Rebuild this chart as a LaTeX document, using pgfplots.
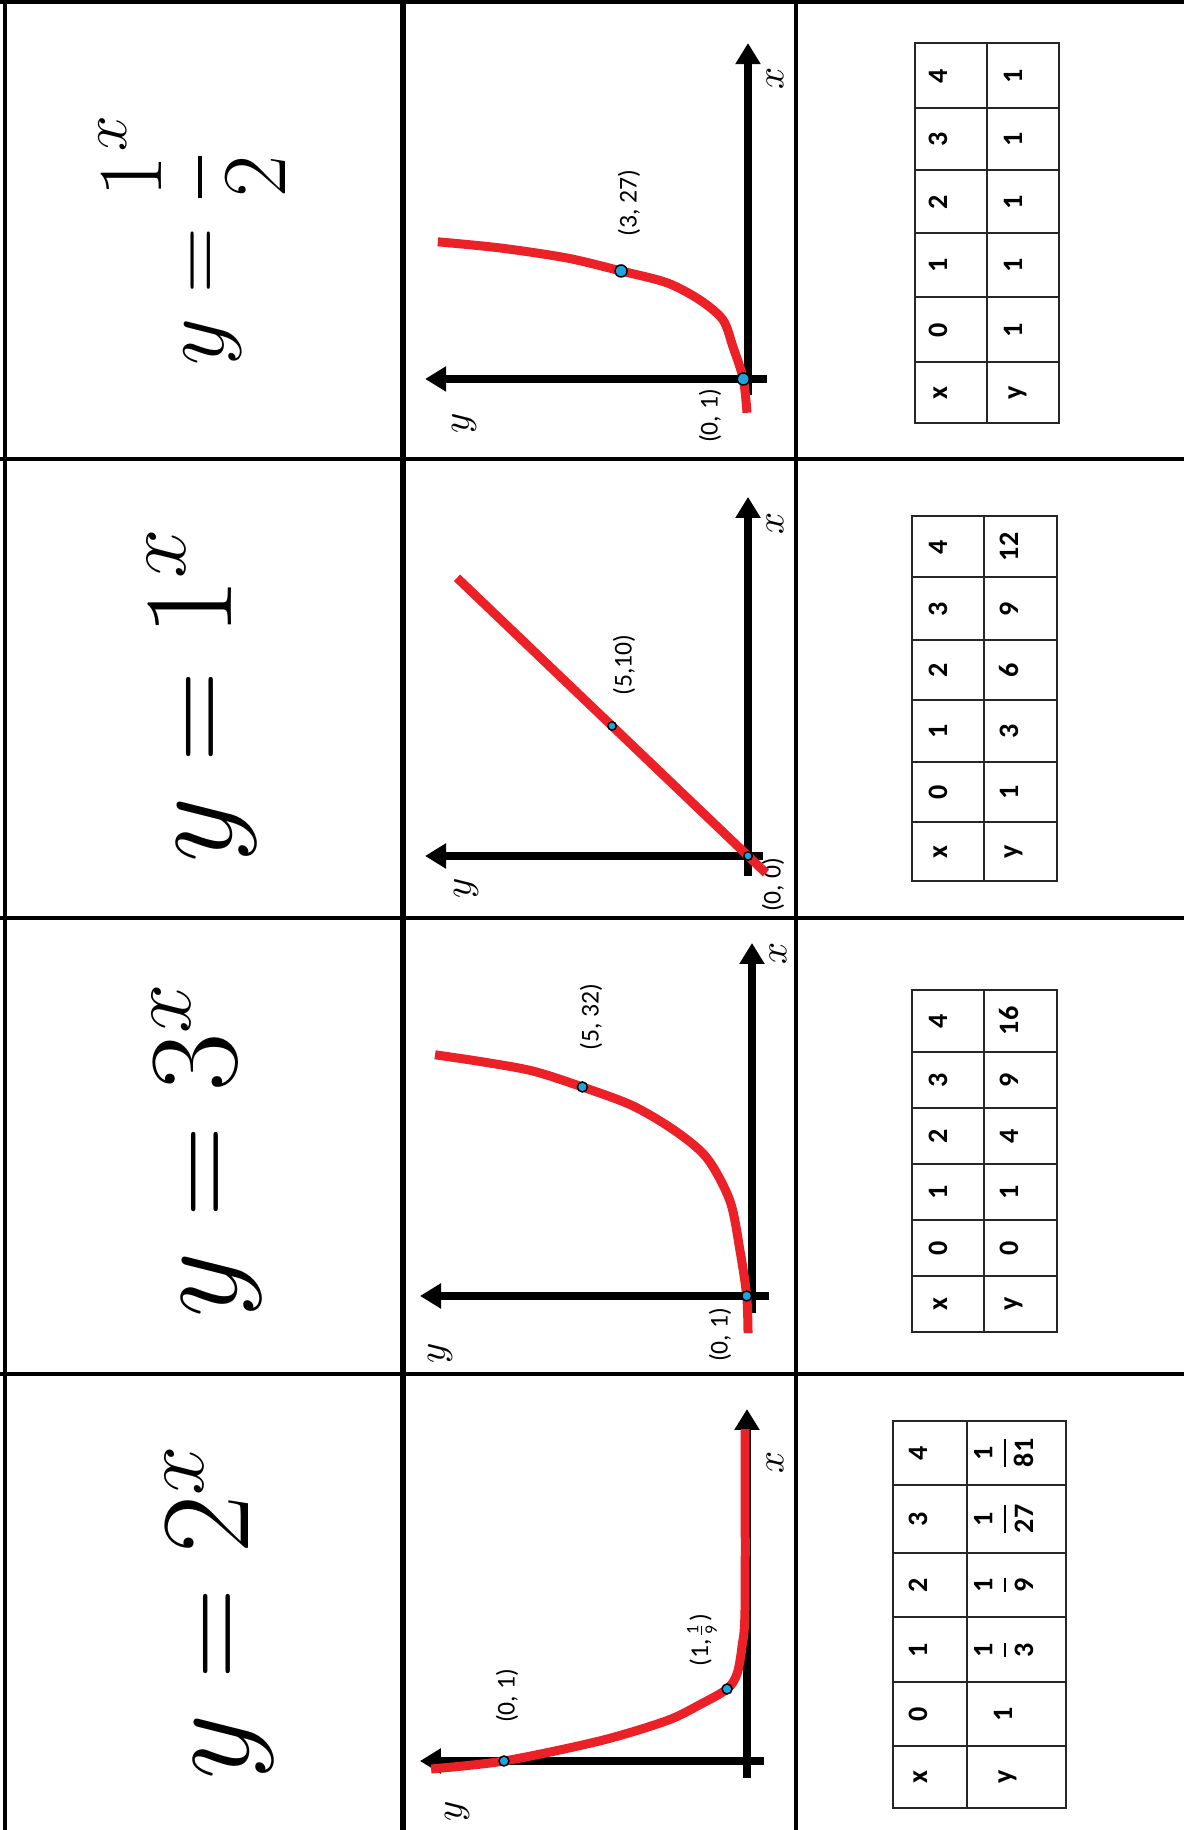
\RequirePackage{fix-cm}
\documentclass[border=0pt]{standalone}
\usepackage{amsmath}
\usepackage{fontspec}
\setmainfont{Carlito}
\usepackage{graphicx}
\usepackage{pgfplots}
\pgfplotsset{compat=1.18}
\usetikzlibrary{arrows.meta}

\definecolor{curvered}{RGB}{236,32,39}
\definecolor{dotblue}{RGB}{30,165,225}

% fraction used in the tables
\newcommand{\tfr}[2]{$\genfrac{}{}{0.6pt}{0}{\mbox{#1}}{\mbox{#2}}$}

\pgfplotsset{
  card/.style={anchor=south west, axis lines*=middle, xtick=\empty, ytick=\empty, clip=false,
    axis line style={line width=0.78mm, -{Triangle[length=2.1mm,width=2.4mm]}}},
  curve/.style={curvered, line width=0.9mm, smooth, no marks},
  pts/.style={only marks, mark=*, mark size=0.5mm,
    mark options={fill=dotblue, draw=black, line width=0.15mm}}}

\begin{document}
\rotatebox{90}{%
\begin{tikzpicture}
\begin{scope}[x=0.1mm, y=-0.1mm,
  grid/.style={line width=0.45mm, black},
  lab/.style={font=\fontsize{7.3}{9}\selectfont, inner sep=0pt},
  eq/.style={font=\fontsize{36}{40}\selectfont, anchor=base, inner sep=0pt}]
\useasboundingbox (0,0) rectangle (1830,1184);

% card grid
\draw[grid] (0,5) -- (1828,5);
\draw[grid, line width=0.55mm] (0,403) -- (1828,403);
\draw[grid] (0,796) -- (1828,796);
\foreach \u in {456,912,1371,1828} \draw[grid] (\u,0) -- (\u,1184);

% equations
\node[eq] at (218,249) {$y = 2^{x}$};
\node[eq] at (680,236) {$y = 3^{x}$};
\node[eq] at (1135,231) {$y = 1^{x}$};
\node[eq, font=\fontsize{26}{30}\selectfont] at (1590,223) {$y = \dfrac{1}{2}^{x}$};

% label partly hidden by the axes
\node[lab] at (945,773) {(0, 0)};
\end{scope}

% graph 1
\begin{axis}[card, at={(5.2mm,-76.45mm)}, x=7.2mm, y=24.3mm,
  xmin=-0.236, xmax=4.889, ymin=-0.072, ymax=1.346]
\addplot[curve] coordinates {(-0.11,1.30) (0,1.0) (0.28,0.605) (0.56,0.33) (0.79,0.19)
  (1.0,0.082) (1.21,0.041) (1.58,0.021) (2.14,0.008) (4.61,0.008)};
\addplot[pts] coordinates {(0,1) (1,0.082)};
\end{axis}

% graph 2
\begin{axis}[card, at={(51.69mm,-76.95mm)}, x=4.18mm, y=0.53mm,
  xmin=-0.41, xmax=8.445, ymin=-3.3, ymax=62.64]
\addplot[curve] coordinates {(-0.89,0.75) (0,1) (1.08,2.26) (2.27,4.15) (3.30,8.5)
  (3.95,14.5) (4.55,22.5) (5,32) (5.38,41.3) (5.60,50.8) (5.77,59.8)};
\addplot[pts] coordinates {(0,1) (5,32)};
\end{axis}

% graph 3
\begin{axis}[card, at={(95.4mm,-76.3mm)}, x=2.6mm, y=1.36mm,
  xmin=-0.77, xmax=13.81, ymin=-1.1, ymax=23.75]
\addplot[curve] coordinates {(-0.65,-1.3) (0,0) (5,10) (10.7,21.4)};
\addplot[pts, mark size=0.42mm] coordinates {(0,0) (5,10)};
\end{axis}

% graph 4
\begin{axis}[card, at={(143.52mm,-76.68mm)}, x=3.6mm, y=0.47mm,
  xmin=-0.44, xmax=9.33, ymin=-4.0, ymax=68.7]
\addplot[curve] coordinates {(-0.94,0.21) (0,1) (0.89,3.19) (1.64,5.32) (2.19,10.2)
  (2.67,17.2) (3,27) (3.36,38.5) (3.64,52.8) (3.81,66.0)};
\addplot[pts, mark size=0.6mm] coordinates {(0,1) (3,27)};
\end{axis}

\begin{scope}[x=0.1mm, y=-0.1mm,
  tab/.style={line width=0.28mm, black!85},
  tt/.style={font=\fontsize{8}{9}\selectfont\bfseries, anchor=base, inner sep=0pt},
  lab/.style={font=\fontsize{7.3}{9}\selectfont, inner sep=0pt},
  ax/.style={font=\fontsize{11}{12}\selectfont, inner sep=0pt}]
\node[lab] at (134,507) {(0, 1)};
\node[lab] at (190,702) {(1,$\genfrac{}{}{0.4pt}{1}{\mbox{\fontsize{5}{6}\selectfont 1}}{\mbox{\fontsize{5}{6}\selectfont 9}}$)};
\node[ax] at (368,775) {$x$};
\node[ax] at (19,457) {$y$};
\node[lab] at (813,591) {(5, 32)};
\node[lab] at (495,720) {(0, 1)};
\node[ax] at (877,778) {$x$};
\node[ax] at (477,440) {$y$};
\node[lab] at (1165,624) {(5,10)};
\node[ax] at (1307,775) {$x$};
\node[ax] at (942,466) {$y$};
\node[lab] at (1627,629) {(3, 27)};
\node[lab] at (1414,710) {(0, 1)};
\node[ax] at (1752,775) {$x$};
\node[ax] at (1407,464) {$y$};

% table 1
\draw[tab] (22,893) rectangle (409,1066) (22,967) -- (409,967);
\foreach \u in {84,148,213,277,345} \draw[tab] (\u,893) -- (\u,1066);
\foreach \u/\t in {53/x,116/0,180/1,245/2,311/3,377/4} \node[tt] at (\u,927) {\t};
\node[tt] at (53,1012) {y};
\node[tt] at (116,1012) {1};
\node[tt] at (180,1012) {\tfr{1}{3}};
\node[tt] at (245,1012) {\tfr{1}{9}};
\node[tt] at (311,1012) {\tfr{1}{27}};
\node[tt] at (377,1012) {\tfr{1}{81}};

% table 2
\draw[tab] (498,912) rectangle (840,1057) (498,984) -- (840,984);
\foreach \u in {554,610,666,722,778} \draw[tab] (\u,912) -- (\u,1057);
\foreach \u/\t in {526/x,582/0,638/1,694/2,750/3,809/4} \node[tt] at (\u,947) {\t};
\foreach \u/\t in {526/y,582/0,638/1,694/4,750/9,809/16} \node[tt] at (\u,1018) {\t};

% table 3
\draw[tab] (949,912) rectangle (1314,1057) (949,984) -- (1314,984);
\foreach \u in {1008,1068,1130,1190,1253} \draw[tab] (\u,912) -- (\u,1057);
\foreach \u/\t in {978/x,1038/0,1099/1,1160/2,1221/3,1283/4} \node[tt] at (\u,947) {\t};
\foreach \u/\t in {978/y,1038/1,1099/3,1160/6,1221/9,1283/12} \node[tt] at (\u,1018) {\t};

% table 4
\draw[tab] (1407,915) rectangle (1787,1059) (1407,987) -- (1787,987);
\foreach \u in {1468,1533,1597,1660,1722} \draw[tab] (\u,915) -- (\u,1059);
\foreach \u/\t in {1437/x,1500/0,1565/1,1628/2,1691/3,1754/4} \node[tt] at (\u,947) {\t};
\foreach \u/\t in {1437/y,1500/1,1565/1,1628/1,1691/1,1754/1} \node[tt] at (\u,1022) {\t};
\end{scope}
\end{tikzpicture}}
\end{document}
